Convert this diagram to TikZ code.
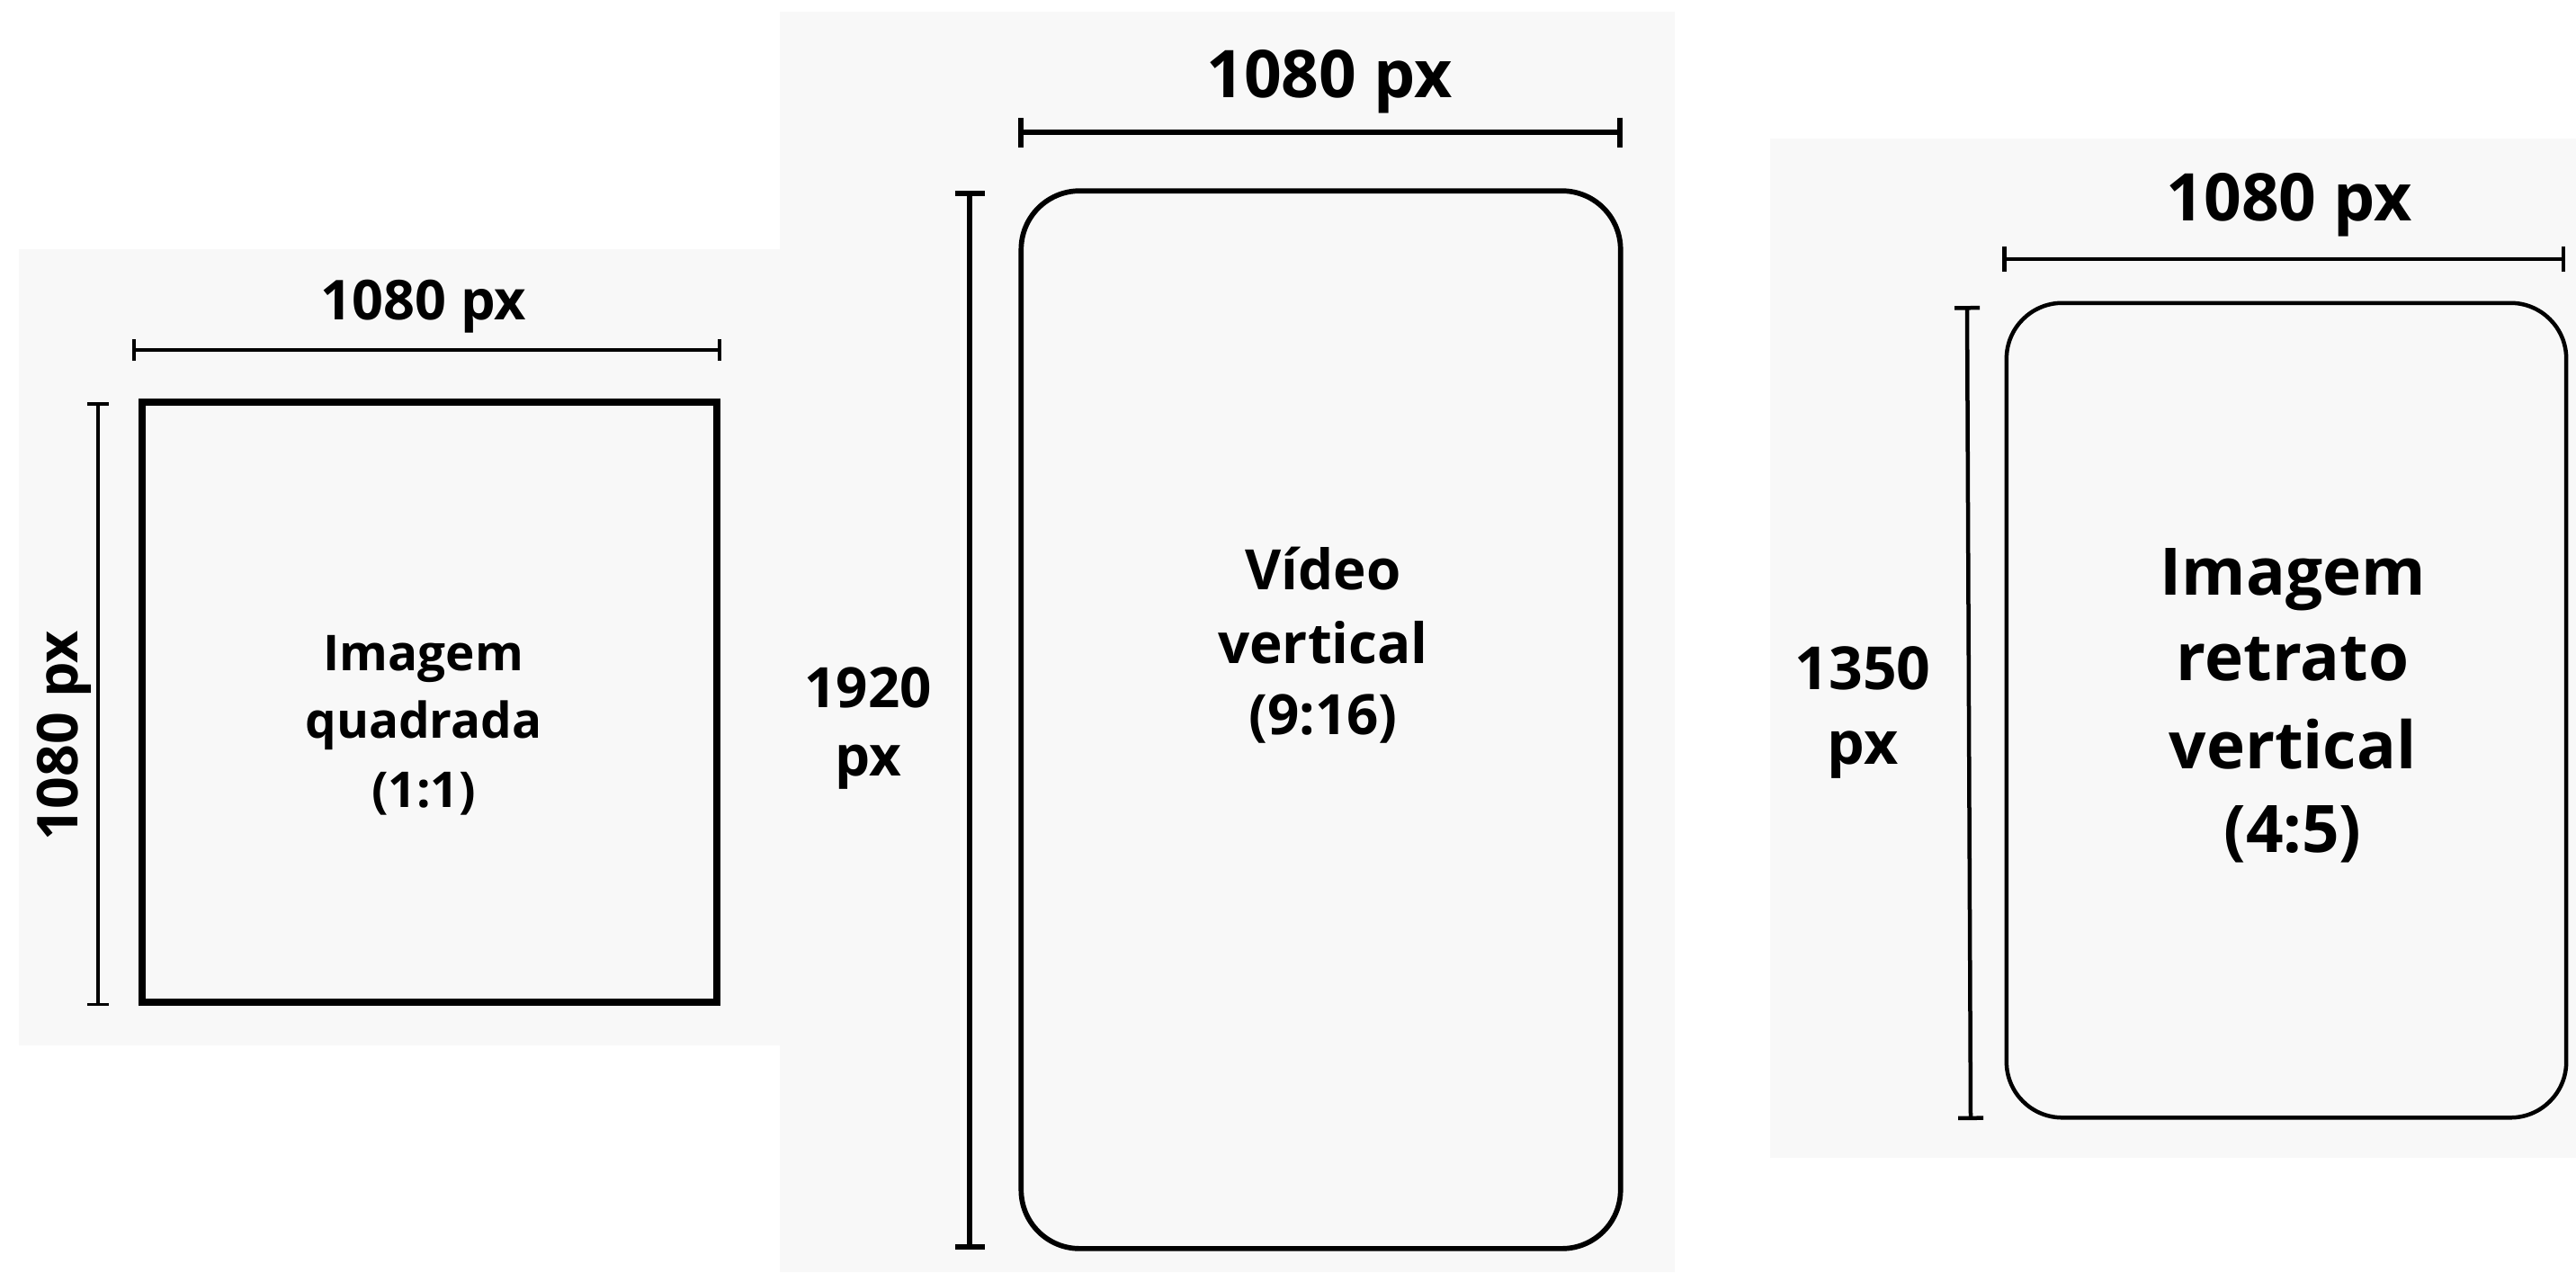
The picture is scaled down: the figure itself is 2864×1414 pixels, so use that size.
\documentclass[tikz,border=0pt]{standalone}
\usepackage{fontspec}
\setmainfont{Open Sans}
\usetikzlibrary{arrows.meta}
\definecolor{panelbg}{HTML}{F8F8F8}
\begin{document}
\begin{tikzpicture}[x=0.01cm,y=-0.01cm]
\tikzset{
  panel/.style={fill=panelbg, draw=none},
  lbl/.style={inner sep=0pt, outer sep=0pt, anchor=base, font=\bfseries\fontsize{#1}{#1}\selectfont},
  frame/.style={draw=black, fill=panelbg, inner sep=0pt, outer sep=0pt},
  dimA/.style={line width=1pt, arrows={Bar[width=0.24cm]-Bar[width=0.24cm]}},
  dimB/.style={line width=1.7pt, arrows={Bar[width=0.33cm]-Bar[width=0.33cm]}},
  dimC/.style={line width=1.28pt, arrows={Bar[width=0.28cm]-Bar[width=0.28cm]}},
}
\useasboundingbox (0,0) rectangle (2864,1414);
\fill[white] (0,0) rectangle (2864,1414);
% panels
\fill[panel] (21,277) rectangle (867,1162);
\fill[panel] (867,13) rectangle (1862,1414);
\fill[panel] (1968,154) rectangle (2864,1287);

% ---------- panel 1 : square ----------
\node[frame, line width=2.28pt, minimum width=6.39cm, minimum height=6.67cm] (sq) at (477.5,780.5) {};
\coordinate (h1a) at (147,389); \coordinate (h1b) at (802,389);
\draw[dimA] (h1a) -- (h1b);
\coordinate (v1a) at (109,447); \coordinate (v1b) at (109,1118);
\draw[dimA] (v1a) -- (v1b);
\node[lbl=17.4pt] (t1w) at (471,355) {1080 px};
\node[lbl=17.8pt, rotate=90] (t1h) at (86,818) {1080 px};
\node[lbl=15.6pt] (t1a) at (471,745) {Imagem};
\node[lbl=15.6pt] (t1b) at (471,820) {quadrada};
\node[lbl=15.6pt] (t1c) at (471,897) {(1:1)};

% ---------- panel 2 : 9:16 ----------
\node[frame, line width=1.62pt, rounded corners=0.65cm, minimum width=6.66cm, minimum height=11.75cm] (vid) at (1468.5,800) {};
\coordinate (h2a) at (1132,147); \coordinate (h2b) at (1804,147);
\draw[dimB] (h2a) -- (h2b);
\coordinate (v2a) at (1078,212); \coordinate (v2b) at (1078,1389);
\draw[dimB] (v2a) -- (v2b);
\node[lbl=20.8pt] (t2w) at (1478,108) {1080 px};
\node[lbl=17.6pt] (t2h1) at (965,786) {1920};
\node[lbl=17.6pt] (t2h2) at (965,862) {px};
\node[lbl=17.6pt] (t2a) at (1471,655) {Vídeo};
\node[lbl=17.6pt] (t2b) at (1471,737) {vertical};
\node[lbl=17.6pt] (t2c) at (1471,816) {(9:16)};

% ---------- panel 3 : 4:5 ----------
\node[frame, line width=1.28pt, rounded corners=0.62cm, minimum width=6.22cm, minimum height=9.05cm] (ret) at (2542,789.5) {};
\coordinate (h3a) at (2226,288); \coordinate (h3b) at (2852,288);
\draw[dimC] (h3a) -- (h3b);
\coordinate (v3a) at (2187,340); \coordinate (v3b) at (2191,1245);
\draw[dimC] (v3a) -- (v3b);
\node[lbl=20.8pt] (t3w) at (2545,245) {1080 px};
\node[lbl=18.8pt] (t3h1) at (2071,766) {1350};
\node[lbl=18.8pt] (t3h2) at (2071,849) {px};
\node[lbl=20.7pt] (t3a) at (2549,661) {Imagem};
\node[lbl=20.7pt] (t3b) at (2549,756) {retrato};
\node[lbl=20.7pt] (t3c) at (2549,854) {vertical};
\node[lbl=20.7pt] (t3d) at (2549,947) {(4:5)};
\end{tikzpicture}
\end{document}
